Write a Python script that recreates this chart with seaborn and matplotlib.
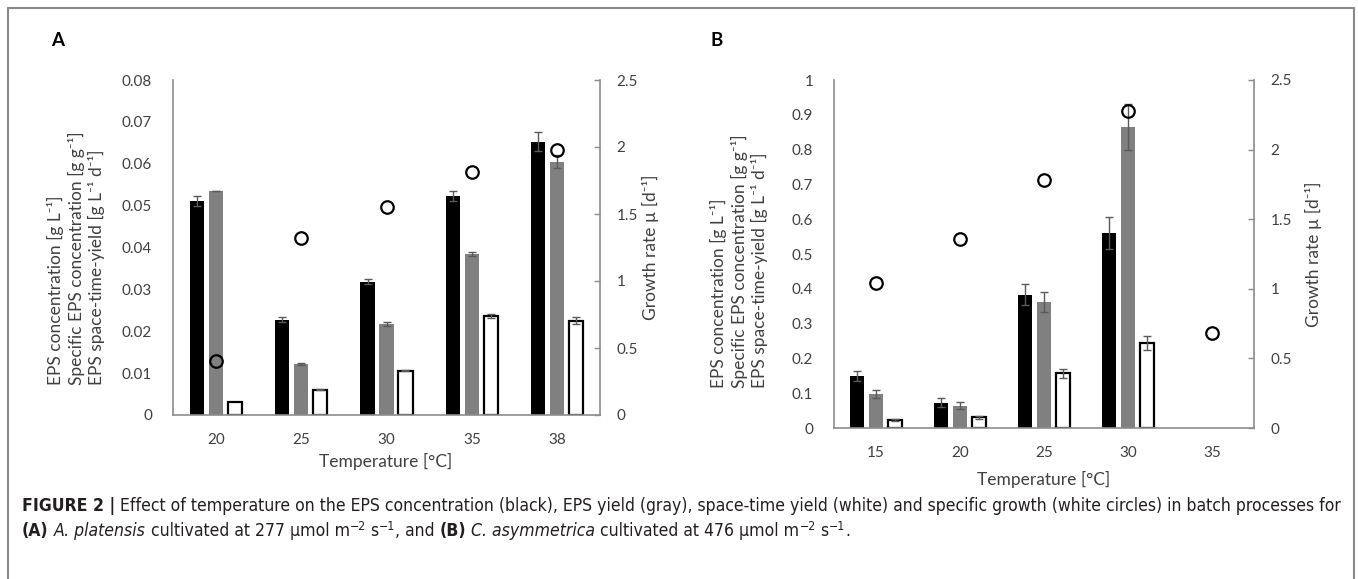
import numpy as np
import pandas as pd
import matplotlib
matplotlib.use('Agg')
import matplotlib.pyplot as plt
import seaborn as sns

# --- data ---
series = ['EPS concentration', 'Specific EPS concentration', 'EPS space-time-yield']
bar_colors = ['#000000', '#808080', '#ffffff']

temps_a = ['20', '25', '30', '35', '38']
conc_a = [0.0511, 0.0228, 0.0318, 0.0522, 0.0653]
conc_a_err = [0.0013, 0.0006, 0.0006, 0.0012, 0.0022]
spec_a = [0.0535, 0.0122, 0.0218, 0.0384, 0.0605]
spec_a_err = [0.0001, 0.0002, 0.0005, 0.0005, 0.0015]
sty_a = [0.0030, 0.0060, 0.0106, 0.0236, 0.0225]
sty_a_err = [0.0, 0.0001, 0.0002, 0.0005, 0.0008]
growth_a = [0.40, 1.32, 1.55, 1.81, 1.98]

temps_b = ['15', '20', '25', '30', '35']
conc_b = [0.150, 0.073, 0.383, 0.560, np.nan]
conc_b_err = [0.015, 0.012, 0.030, 0.045, np.nan]
spec_b = [0.098, 0.064, 0.362, 0.865, np.nan]
spec_b_err = [0.012, 0.010, 0.030, 0.067, np.nan]
sty_b = [0.024, 0.031, 0.157, 0.243, np.nan]
sty_b_err = [0.003, 0.004, 0.013, 0.020, np.nan]
growth_b = [1.04, 1.36, 1.78, 2.28, 0.68]

yticks_a = [0, 0.01, 0.02, 0.03, 0.04, 0.05, 0.06, 0.07, 0.08]
yticklabels_a = ['0', '0.01', '0.02', '0.03', '0.04', '0.05', '0.06', '0.07', '0.08']
yticks_b = [0, 0.1, 0.2, 0.3, 0.4, 0.5, 0.6, 0.7, 0.8, 0.9, 1.0]
yticklabels_b = ['0', '0.1', '0.2', '0.3', '0.4', '0.5', '0.6', '0.7', '0.8', '0.9', '1']
growth_ticks = [0, 0.5, 1, 1.5, 2, 2.5]
growth_ticklabels = ['0', '0.5', '1', '1.5', '2', '2.5']


def long_table(temps, vals, errs):
    rows = []
    for s, v, e in zip(series, vals, errs):
        for t, vi, ei in zip(temps, v, e):
            rows.append({'Temperature': t, 'series': s, 'value': vi, 'err': ei})
    return pd.DataFrame(rows)


df_a = long_table(temps_a, [conc_a, spec_a, sty_a], [conc_a_err, spec_a_err, sty_a_err])
df_b = long_table(temps_b, [conc_b, spec_b, sty_b], [conc_b_err, spec_b_err, sty_b_err])

sns.set_theme(style='white')
plt.rcParams['font.family'] = ['Lato', 'DejaVu Sans']
plt.rcParams['axes.unicode_minus'] = False

W, H = 1358, 579
fig = plt.figure(figsize=(W / 100, H / 100), dpi=100)
fig.patch.set_facecolor('white')

txt_col = '#404040'
axis_col = '#8c8c8c'
tick_size = 11
lab_size = 12.5


def px(x, y):
    return x / W, 1 - y / H


def panel(rect, df, temps, growth, ylim, yticks, yticklabels):
    l, t, r, b = rect
    ax = fig.add_axes([l / W, 1 - b / H, (r - l) / W, (b - t) / H])
    sns.barplot(data=df, x='Temperature', y='value', hue='series', order=temps,
                hue_order=series, palette=dict(zip(series, bar_colors)),
                width=0.666, gap=0.25, errorbar=None, saturation=1,
                legend=False, ax=ax)
    # error bars and edges
    for cont, s in zip(ax.containers, series):
        sub = df[df['series'] == s].set_index('Temperature')
        for bar in cont:
            h = bar.get_height()
            if np.isnan(h):
                continue
            if s == series[2]:
                bar.set_edgecolor('black')
                bar.set_linewidth(1.6)
            else:
                bar.set_linewidth(0)
            cx = bar.get_x() + bar.get_width() / 2
            t = temps[int(round(cx))]
            e = sub.loc[t, 'err']
            if e > 0:
                ax.errorbar(cx, h, yerr=e, fmt='none', ecolor='#5a5a5a',
                            elinewidth=1, capsize=3, capthick=1, zorder=5)
    ax.set_ylim(*ylim)
    ax.set_yticks(yticks)
    ax.set_yticklabels(yticklabels)
    ax.set_xlabel('')
    ax.set_ylabel('')
    for sp in ['top', 'right']:
        ax.spines[sp].set_visible(False)
    for sp in ['left', 'bottom']:
        ax.spines[sp].set_color(axis_col)
        ax.spines[sp].set_linewidth(1.2)
    ax.tick_params(axis='y', length=0, pad=15, labelsize=tick_size, labelcolor=txt_col)
    ax.tick_params(axis='x', length=0, pad=13, labelsize=tick_size, labelcolor=txt_col)

    ax2 = ax.twinx()
    sns.pointplot(x=temps, y=growth, order=temps, ax=ax2, color='black',
                  markers='o', linestyle='none', errorbar=None,
                  markersize=9, markerfacecolor='none', markeredgewidth=1.6)
    ax2.set_ylim(0, 2.5)
    ax2.set_yticks(growth_ticks)
    ax2.set_yticklabels(growth_ticklabels)
    ax2.set_ylabel('')
    for sp in ['top', 'left', 'bottom']:
        ax2.spines[sp].set_visible(False)
    ax2.spines['right'].set_color(axis_col)
    ax2.spines['right'].set_linewidth(1.2)
    ax2.tick_params(axis='y', direction='in', length=4, width=1, color=axis_col,
                    pad=12, labelsize=tick_size, labelcolor=txt_col)
    ax.set_xlim(-0.5, len(temps) - 0.5)
    ax.set_xticks(range(len(temps)))
    ax.set_xticklabels(temps)
    return ax, ax2


ylab = 'EPS concentration [g L⁻¹]\nSpecific EPS concentration [g g⁻¹]\nEPS space-time-yield [g L⁻¹ d⁻¹]'
glab = 'Growth rate µ [d⁻¹]'

# panel A
panel((173, 80, 600, 415), df_a, temps_a, growth_a, (0, 0.08), yticks_a, yticklabels_a)
fig.text(*px(76, 385), ylab, rotation=90, ha='center', va='bottom', multialignment='left',
         linespacing=1.25, fontsize=lab_size, color=txt_col)
fig.text(*px(650, 247), glab, rotation=90, ha='center', va='center', fontsize=lab_size, color=txt_col)
fig.text(*px(386, 461), 'Temperature [°C]', ha='center', va='center', fontsize=lab_size, color=txt_col)
fig.text(*px(51, 40), 'A', ha='left', va='center', fontsize=13.5, fontweight='bold', color='black')

# panel B
panel((834, 80, 1254, 428), df_b, temps_b, growth_b, (0, 1.0), yticks_b, yticklabels_b)
fig.text(*px(739, 388), ylab, rotation=90, ha='center', va='bottom', multialignment='left',
         linespacing=1.25, fontsize=lab_size, color=txt_col)
fig.text(*px(1313, 254), glab, rotation=90, ha='center', va='center', fontsize=lab_size, color=txt_col)
fig.text(*px(1044, 479), 'Temperature [°C]', ha='center', va='center', fontsize=lab_size, color=txt_col)
fig.text(*px(711, 40), 'B', ha='left', va='center', fontsize=13.5, fontweight='bold', color='black')

# frame around the figure
frame_col = '#8a8a8a'
fig.add_artist(plt.Line2D([8 / W, 8 / W], [0, 1 - 8 / H], color=frame_col, lw=1.5))
fig.add_artist(plt.Line2D([1354 / W, 1354 / W], [0, 1 - 8 / H], color=frame_col, lw=1.5))
fig.add_artist(plt.Line2D([8 / W, 1354 / W], [1 - 8 / H, 1 - 8 / H], color=frame_col, lw=1.5))

# caption, drawn run by run
cap_font = ['DejaVu Sans']
cap_col = '#231f20'
line1 = [('FIGURE 2 |', 'bold', 'normal', False),
         (' Effect of temperature on the EPS concentration (black), EPS yield (gray), '
          'space-time yield (white) and specific growth (white circles) in batch processes for',
          'normal', 'normal', False)]
line2 = [('(A)', 'bold', 'normal', False), (' ', 'normal', 'normal', False),
         ('A. platensis', 'normal', 'italic', False),
         (' cultivated at 277 µmol m', 'normal', 'normal', False), ('−2', 'normal', 'normal', True),
         (' s', 'normal', 'normal', False), ('−1', 'normal', 'normal', True),
         (', and ', 'normal', 'normal', False), ('(B)', 'bold', 'normal', False),
         (' ', 'normal', 'normal', False), ('C. asymmetrica', 'normal', 'italic', False),
         (' cultivated at 476 µmol m', 'normal', 'normal', False), ('−2', 'normal', 'normal', True),
         (' s', 'normal', 'normal', False), ('−1', 'normal', 'normal', True),
         ('.', 'normal', 'normal', False)]

renderer = fig.canvas.get_renderer()


def draw_runs(runs, x0, ybase, size):
    x = x0
    drawn = []
    for text, weight, style, sup in runs:
        s = size * 0.7 if sup else size
        yy = ybase - size * 0.5 if sup else ybase
        t = fig.text(*px(x, yy), text, ha='left', va='baseline', fontsize=s,
                     fontweight=weight, fontstyle=style, fontstretch='condensed',
                     family=cap_font, color=cap_col)
        x += t.get_window_extent(renderer).width
        drawn.append(t)
    return x - x0, drawn


# fit the first caption line to the width it has in the figure
w, tmp = draw_runs(line1, 22, 511, 10)
for t in tmp:
    t.remove()
cap_size = 10 * (1340 - 22) / w
draw_runs(line1, 22, 511, cap_size)
draw_runs(line2, 22, 536, cap_size)

fig.savefig('out.png', dpi=100, facecolor='white')
